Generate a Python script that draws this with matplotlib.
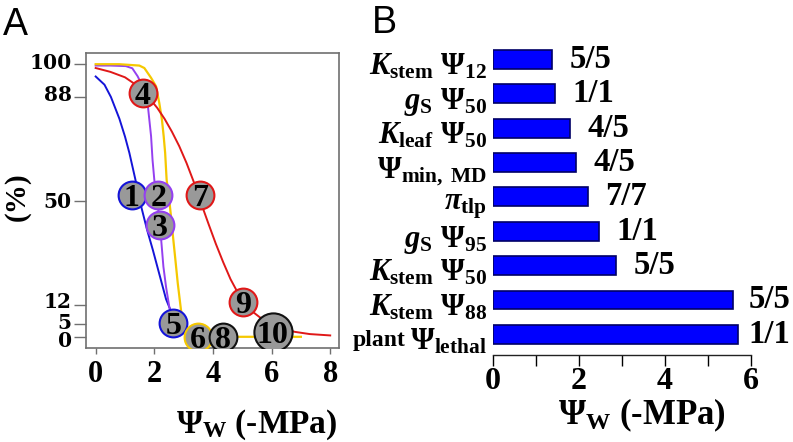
import matplotlib
matplotlib.use("Agg")
import matplotlib.pyplot as plt
from matplotlib.transforms import blended_transform_factory, ScaledTranslation

plt.rcParams['font.family'] = ['Liberation Serif', 'DejaVu Serif']
plt.rcParams['font.weight'] = 'bold'
plt.rcParams['mathtext.fontset'] = 'custom'
plt.rcParams['mathtext.rm'] = 'Liberation Serif:bold'
plt.rcParams['mathtext.it'] = 'Liberation Serif:italic:bold'
plt.rcParams['mathtext.bf'] = 'Liberation Serif:bold'

# ---------------- Panel A data ----------------
blue_x = [0.0, 0.3, 0.52, 0.81, 1.0, 1.15, 1.35, 1.55, 1.75, 1.95, 2.2, 2.4, 2.57, 2.7, 2.85]
blue_y = [95.5, 92.5, 88.0, 80.0, 73.5, 67.5, 58.0, 48.0, 39.5, 32.0, 22.0, 14.0, 9.5, 6.0, 3.5]

purple_x = [0.0, 0.5, 1.03, 1.25, 1.43, 1.66, 1.77, 1.83, 1.89, 1.94, 2.0, 2.1, 2.2, 2.23, 2.31, 2.4, 2.51, 2.62, 2.72]
purple_y = [99.5, 99.5, 99.3, 98.5, 95.6, 90.7, 85.8, 79.7, 73.6, 64.9, 57.7, 50.0, 41.0, 36.3, 25.9, 18.5, 11.2, 6.0, 3.5]

yellow_x = [0.0, 0.8, 1.49, 1.66, 1.89, 2.06, 2.17, 2.26, 2.32, 2.37, 2.42, 2.51, 2.57, 2.65, 2.72, 2.8, 2.91, 2.97, 3.1, 3.3, 4.0, 5.0, 6.0, 7.0]
yellow_y = [100.0, 100.0, 99.5, 98.6, 95.0, 91.9, 85.8, 79.7, 73.6, 67.5, 57.7, 50.3, 44.2, 35.6, 28.3, 19.8, 10.0, 6.3, 2.0, 0.3, 0.2, 0.2, 0.2, 0.2]

red_x = [0.0, 0.5, 1.0, 1.3, 1.6, 1.85, 2.1, 2.35, 2.6, 2.85, 3.1, 3.35, 3.6, 3.85, 4.1, 4.35, 4.6, 4.85, 5.1, 5.4, 5.7, 6.0, 6.4, 6.8, 7.3, 8.0]
red_y = [98.6, 97.2, 95.2, 93.0, 90.0, 87.3, 84.0, 80.0, 75.3, 70.0, 63.8, 56.8, 49.0, 41.5, 34.2, 27.5, 21.3, 16.3, 12.4, 9.0, 6.5, 4.7, 3.0, 2.0, 1.2, 0.7]

circle_num = ['1', '2', '3', '4', '5', '6', '7', '8', '9', '10']
circle_x = [1.23, 2.14, 2.19, 1.6, 2.65, 3.48, 3.56, 4.36, 5.04, 6.04]
circle_y = [52.1, 52.1, 41.1, 89.4, 5.1, 0.0, 52.1, 0.0, 13.0, 1.8]
circle_edge = ['#1414d8', '#9440f0', '#9440f0', '#e01818', '#1414d8', '#f5c800',
               '#e01818', '#111111', '#e01818', '#111111']

a_yticks = [0, 5, 12, 50, 88, 100]
a_xticks = [0, 2, 4, 6, 8]

# ---------------- Panel B data ----------------
b_labels = [r"$K_{\mathrm{stem}}\ \Psi_{\mathrm{12}}$",
            r"$g_{\mathrm{S}}\ \Psi_{\mathrm{50}}$",
            r"$K_{\mathrm{leaf}}\ \Psi_{\mathrm{50}}$",
            r"$\Psi_{\mathrm{min,\ MD}}$",
            r"$\pi_{\mathrm{tlp}}$",
            r"$g_{\mathrm{S}}\ \Psi_{\mathrm{95}}$",
            r"$K_{\mathrm{stem}}\ \Psi_{\mathrm{50}}$",
            r"$K_{\mathrm{stem}}\ \Psi_{\mathrm{88}}$",
            r"$\Psi_{\mathrm{lethal}}$"]
b_prefix_last = 'plant'
b_values = [1.39, 1.46, 1.80, 1.94, 2.22, 2.48, 2.87, 5.58, 5.71]
b_counts = ['5/5', '1/1', '4/5', '4/5', '7/7', '1/1', '5/5', '5/5', '1/1']
b_xticks = [0, 2, 4, 6]

W, H = 793, 442
fig = plt.figure(figsize=(W / 100, H / 100), dpi=100)

# ---------------- Panel A ----------------
axA = fig.add_axes([86 / W, (H - 348) / H, 253 / W, 295 / H])
axA.plot(blue_x, blue_y, color='#1414d8', lw=1.4, zorder=2)
axA.plot(purple_x, purple_y, color='#9440f0', lw=1.4, zorder=2)
axA.plot(yellow_x, yellow_y, color='#f5c800', lw=1.6, zorder=2)
axA.plot(red_x, red_y, color='#e01818', lw=1.4, zorder=2)

for n, x, y, ec in zip(circle_num, circle_x, circle_y, circle_edge):
    size = 27.5 if len(n) > 1 else 20
    axA.scatter([x], [y], s=size ** 2, facecolor='#999999', edgecolor=ec,
                linewidth=1.5, zorder=3)
    axA.text(x, y, n, ha='center', va='center_baseline', fontsize=23,
             fontweight='bold', color='black', zorder=4)

axA.set_xlim(-0.33, 8.3)
axA.set_ylim(-3.9, 104.1)
axA.set_yticks(a_yticks)
axA.set_yticklabels([])
axA.set_xticks(a_xticks)
axA.set_xticklabels([str(v) for v in a_xticks], fontsize=22)
for s in axA.spines.values():
    s.set_color('#707070')
    s.set_linewidth(1.2)
axA.tick_params(axis='y', direction='out', length=9, width=1, color='#707070')
axA.tick_params(axis='x', direction='out', length=4, width=1, color='#707070', pad=5)

# y tick labels drawn as texts so the crowded 0/5/12 labels can be nudged like the reference
ytrans = blended_transform_factory(axA.transAxes, axA.transData)
nudge_px = {0: -4.0, 5: 1.0, 12: 3.0, 50: -0.8, 88: 1.5, 100: 1.5}
for v in a_yticks:
    t = ytrans + ScaledTranslation(-14.3 / 100, nudge_px[v] / 100, fig.dpi_scale_trans)
    axA.text(0, v, str(v), transform=t, ha='right', va='center',
             fontsize=14.5, fontweight='bold', family='DejaVu Serif')

fig.text(3 / W, 1 - 35 / H, 'A', fontsize=27, family='Liberation Sans',
         fontweight='normal', va='baseline', ha='left')
fig.text(17 / W, 1 - 197 / H, '(%)', rotation=90, ha='center', va='center', fontsize=21)
fig.text(257 / W, 1 - 425 / H, r"$\Psi_{\mathrm{W}}$ (-MPa)", ha='center', va='center',
         fontsize=24)

# ---------------- Panel B ----------------
axB = fig.add_axes([492.7 / W, (H - 355) / H, 258 / W, (355 - 38.7) / H])
ypos = list(range(len(b_values)))
axB.barh(ypos, b_values, height=0.55, color='#0000ff', edgecolor='#000066', linewidth=1.2)
count_texts = []
for yv, v, c in zip(ypos, b_values, b_counts):
    t = axB.annotate(c, (v, yv), xytext=(12.5, 0), textcoords='offset points',
                     ha='left', va='center', fontsize=23.5, fontweight='bold',
                     annotation_clip=False)
    count_texts.append(t)
axB.set_ylim(8.6, -0.6)
axB.set_xlim(0, 6)
axB.set_yticks(ypos)
axB.set_yticklabels(b_labels, fontsize=22)
axB.set_xticks(b_xticks)
axB.set_xticklabels([str(v) for v in b_xticks], fontsize=23)
axB.set_xticks([1, 3, 5], minor=True)
for k in ['left', 'right', 'top']:
    axB.spines[k].set_visible(False)
axB.spines['bottom'].set_color('#222222')
axB.spines['bottom'].set_linewidth(1.0)
axB.tick_params(axis='x', which='both', direction='out', length=8, width=1, pad=0.5)
axB.tick_params(axis='y', length=0, pad=4)
for lab in axB.get_yticklabels():
    lab.set_transform(lab.get_transform() + ScaledTranslation(0, -4 / 100, fig.dpi_scale_trans))

fig.text(372 / W, 1 - 33 / H, 'B', fontsize=27, family='Liberation Sans',
         fontweight='normal', va='baseline', ha='left')
fig.text(642 / W, 1 - 415 / H, r"$\Psi_{\mathrm{W}}$ (-MPa)", ha='center', va='center',
         fontsize=25)

fig.canvas.draw()
# keep the count labels inside the picture (the reference pulls the last one in)
for t in count_texts:
    bb = t.get_window_extent()
    over = bb.x1 - (W - 3)
    if over > 0:
        x0, y0 = t.xyann
        t.xyann = (x0 - over * 72 / 100, y0)

# "plant" prefix for the last label
lbl = axB.get_yticklabels()[-1]
bb = lbl.get_window_extent()
trans = blended_transform_factory(fig.transFigure, axB.transData) + \
    ScaledTranslation(0, -4 / 100, fig.dpi_scale_trans)
fig.text((bb.x0 - 5) / W, 8, b_prefix_last, transform=trans, ha='right',
         va='center_baseline', fontsize=17, fontweight='bold')

fig.savefig('out.png', dpi=100)
